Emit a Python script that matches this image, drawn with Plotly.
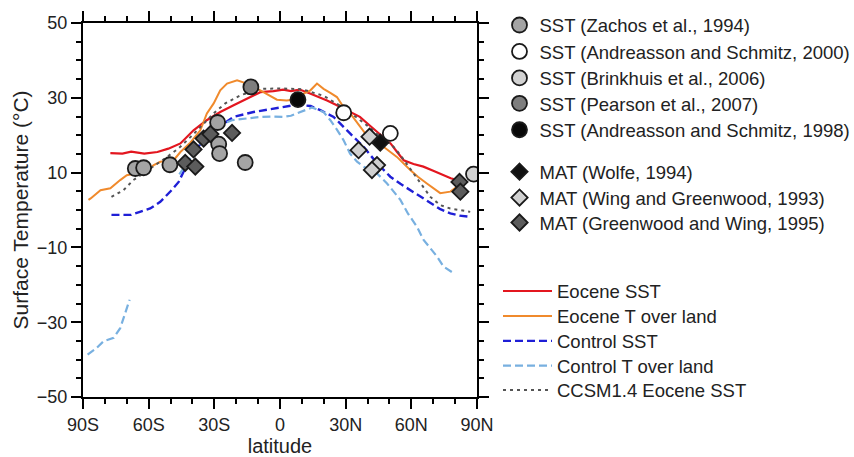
import plotly.graph_objects as go

# ---------------- data ----------------
eoc_sst_lat = [-77.5, -72, -68, -62, -56, -51, -45.5, -39.5, -33.5, -27.3, -21.2, -15, -9, -3, 1.5, 5, 9, 14, 18, 21.5,
               26, 30.5, 36.5, 41, 44.5, 47.5, 50.5, 53.5, 56.5, 61, 65.5, 70, 74.5, 78, 81]
eoc_sst_t = [15.2, 15.1, 15.6, 15.1, 15.5, 16.4, 17.8, 21.3, 24, 26.2, 28, 29.8, 31.5, 31.8, 32.2, 31.8, 32.2, 31.1, 30.2, 29.3,
             28, 26.7, 24.9, 22.6, 20.9, 19.3, 17.8, 15.5, 13.3, 12.3, 11.6, 10.5, 9.3, 8.5, 8]

eoc_land_lat = [-87.5, -86.5, -82, -77.5, -73, -70, -65.3, -61.5, -57.7, -54.7, -48.6, -45.5, -41, -36.4, -33.4, -30.3,
                -27.3, -24.2, -19.6, -15.1, -9, -6, -1.4, 3, 6, 9.3, 13.9, 16.9, 19.9, 23, 26, 29, 32.1, 36.7, 41.2,
                47.3, 53.4, 59.5, 63, 67.1, 70, 73.2, 77.8, 80.8]
eoc_land_t = [2.7, 3.1, 5.3, 5.8, 8, 9.3, 9.8, 10.2, 12, 12.9, 13.3, 15.5, 18, 21.3, 25.8, 28.5,
              32, 33.8, 34.7, 33.8, 32, 31.1, 29.5, 29.3, 29.5, 30.7, 32, 33.8, 32.4, 31.3, 30.2, 27.5, 25.8, 22.2, 18.7,
              16.9, 14.2, 10.7, 8.9, 7.1, 5.8, 4.5, 4.9, 6.2]

ctl_sst_lat = [-77, -68, -64, -59.3, -54.7, -50, -46.3, -43, -41, -35, -28, -21.2, -12.1, -6, 1.6, 6.2, 10.8, 14, 18.4,
               24.5, 32.1, 38.2, 44.3, 50.4, 55, 59.5, 64, 68.7, 73, 77.8, 82, 86.9]
ctl_sst_t = [-1.3, -1.3, -0.5, 0.4, 2.2, 5, 7.5, 11.5, 14, 18.7, 22.2, 24.9, 26.2, 26.8, 27.5, 28, 28, 27.8, 26.7,
             24.9, 20.4, 16.9, 12.5, 8.9, 7, 5.3, 3.5, 1.8, 0.3, -0.9, -1.5, -1.8]

ctl_land_lat = [-87.9, -84, -80.6, -76, -73, -70.7, -68.7, None,
                -46, -43, -38, -33, -28, -22, -16.6, -9, -3, 1.6, 5, 9.3, 14.6, 19.9, 23, 26, 29, 32, 35.2, 38.2,
                44.3, 48.9, 55, 58.5, 62.6, 65.6, 71.7, 74.7, 79.3]
ctl_land_t = [-38.7, -37, -35.1, -34.2, -31.6, -27.5, -24, None,
              9.5, 12, 16.5, 20, 22.5, 24, 24.4, 24.9, 25, 24.9, 25.2, 26.2, 27.4, 26.2, 24, 21.5, 18.7, 15.1, 12.9, 11.6,
              9.8, 7.1, 2.7, -1, -4.5, -8, -12.4, -15.1, -16.9]

ccsm_lat = [-77, -71.5, -67, -62.3, -57, -51.6, -46.3, -40, -35, -30, -25, -18, -9, 0, 10, 20, 30, 40, 47, 51, 55, 59,
            62.6, 68.7, 73.2, 77.8, 82, 86.9]
ccsm_t = [3.5, 5.3, 8, 9.8, 12, 14.2, 16.5, 20, 23, 26, 28.5, 30.7, 32.4, 32.5, 32.3, 30.5, 27, 22.5, 19, 17.5, 14.7, 11.5,
          8.5, 3.5, 1.3, 0.4, 0, -0.5]

zachos_lat = [-66.1, -62.3, -50.3, -28.5, -28.0, -27.6, -15.9]
zachos_t = [11.1, 11.3, 12.1, 23.4, 17.6, 15.1, 12.7]
andr2000_lat = [29.1, 50.4]
andr2000_t = [26.0, 20.5]
brink_lat = [88.4]
brink_t = [9.6]
pearson_lat = [-13.3]
pearson_t = [32.9]
andr1998_lat = [8.2]
andr1998_t = [29.5]
wolfe_lat = [45.8]
wolfe_t = [18.0]
wing_lat = [40.9, 35.9, 44.3, 42.0]
wing_t = [19.6, 16.0, 12.0, 10.7]
green_lat = [-43.3, -38.7, -39.5, -34.9, -31.8, -21.9, 82.0, 82.4]
green_t = [12.6, 11.6, 16.2, 19.1, 20.3, 20.6, 7.5, 4.9]

x_tickvals = [-90, -60, -30, 0, 30, 60, 90]
x_ticktext = ["90S", "60S", "30S", "0", "30N", "60N", "90N"]
y_tickvals = [-50, -30, -10, 10, 30, 50]

FONT = "Liberation Sans, Arial, Helvetica, sans-serif"
TXT = "#222222"

# plot area geometry (px) used only to place legend entries
W, H = 854, 457
ML, MR, MT, MB = 83, 377, 22.5, 59.5
PH = H - MT - MB
PW = W - ML - MR


def py2paper(py):
    return (H - MB - py) / PH


def px2paper(px):
    return (px - ML) / PW


fig = go.Figure()
legends = {}
lid = [0]


def new_legend(xpx, ypx, itemwidth=30):
    lid[0] += 1
    key = "legend" if lid[0] == 1 else "legend%d" % lid[0]
    legends[key] = dict(x=px2paper(xpx), y=py2paper(ypx), xanchor="left", yanchor="middle",
                        itemwidth=itemwidth, bgcolor="rgba(0,0,0,0)",
                        font=dict(family=FONT, size=18.5, color=TXT))
    return key


# ---------------- model lines ----------------
lines = [
    ("Eocene SST", eoc_sst_lat, eoc_sst_t, "#e3161f", "solid", 2.2),
    ("Eocene T over land", eoc_land_lat, eoc_land_t, "#f08a2c", "solid", 2.0),
    ("Control SST", ctl_sst_lat, ctl_sst_t, "#1f1fd6", "8px,4px", 2.4),
    ("Control T over land", ctl_land_lat, ctl_land_t, "#78b0e0", "8px,4px", 2.2),
    ("CCSM1.4 Eocene SST", ccsm_lat, ccsm_t, "#555555", "3px,4px", 2.0),
]
line_rows = [291.7, 316.7, 341.7, 366.5, 391]
for (name, x, y, c, d, w), ry in zip(lines, line_rows):
    key = new_legend(498, ry, itemwidth=49)
    fig.add_trace(go.Scatter(x=x, y=y, mode="lines", name=name, legend=key, showlegend=True,
                             connectgaps=False,
                             line=dict(color=c, dash=d, width=w)))

# ---------------- proxy markers ----------------
edge = dict(color="#1a1a1a", width=1.8)
markers = [
    ("SST (Zachos et al., 1994)", zachos_lat, zachos_t, "circle", "#a4a4a4"),
    ("SST (Andreasson and Schmitz, 2000)", andr2000_lat, andr2000_t, "circle", "#ffffff"),
    ("SST (Brinkhuis et al., 2006)", brink_lat, brink_t, "circle", "#d2d2d2"),
    ("SST (Pearson et al., 2007)", pearson_lat, pearson_t, "circle", "#7e7e7e"),
    ("SST (Andreasson and Schmitz, 1998)", andr1998_lat, andr1998_t, "circle", "#080808"),
    ("MAT (Wolfe, 1994)", wolfe_lat, wolfe_t, "diamond", "#111111"),
    ("MAT (Wing and Greenwood, 1993)", wing_lat, wing_t, "diamond", "#d0d0d0"),
    ("MAT (Greenwood and Wing, 1995)", green_lat, green_t, "diamond", "#5c5c5c"),
]
marker_rows = [25, 51.5, 78, 103.5, 130, 172, 198, 223]
for (name, x, y, sym, fc), ry in zip(markers, marker_rows):
    key = new_legend(499.5, ry)
    fig.add_trace(go.Scatter(x=x, y=y, mode="markers", name=name, legend=key, showlegend=True,
                             marker=dict(symbol=sym, size=15 if sym == "circle" else 12.5,
                                         color=fc, line=edge)))

axis_common = dict(showline=True, linewidth=2, linecolor="black", mirror="ticks",
                   ticks="outside", ticklen=10, tickwidth=2, tickcolor="black",
                   showgrid=False, zeroline=False,
                   tickfont=dict(family=FONT, size=18, color=TXT))

fig.update_xaxes(range=[-90, 90], tickmode="array", tickvals=x_tickvals, ticktext=x_ticktext,
                 minor=dict(dtick=10, tick0=0, ticks="outside", ticklen=5, tickwidth=1.5, tickcolor="black"),
                 title=dict(text="latitude", font=dict(family=FONT, size=20, color=TXT), standoff=7),
                 **axis_common)
fig.update_yaxes(range=[-50, 50], tickmode="array", tickvals=y_tickvals,
                 minor=dict(dtick=5, tick0=0, ticks="outside", ticklen=5, tickwidth=1.5, tickcolor="black"),
                 title=dict(text="Surface Temperature (°C)", font=dict(family=FONT, size=21, color=TXT),
                            standoff=3),
                 **axis_common)

fig.update_layout(
    width=W, height=H,
    margin=dict(l=ML, r=MR, t=MT, b=MB, autoexpand=False),
    paper_bgcolor="white", plot_bgcolor="white",
    font=dict(family=FONT, size=18, color=TXT),
    showlegend=True,
    **legends,
)

fig.write_html("out.html")
